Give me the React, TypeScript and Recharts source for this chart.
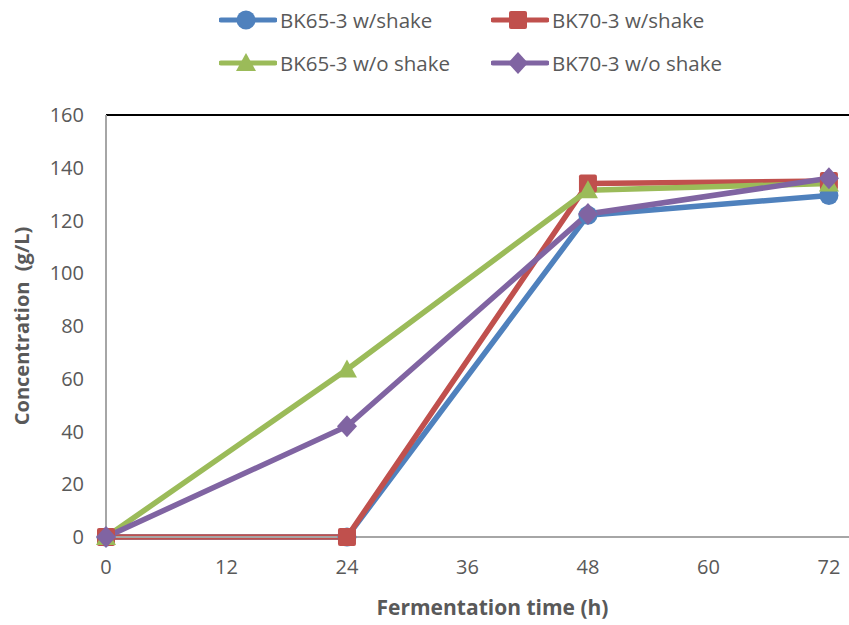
import React from "react";
import {
  LineChart,
  Line,
  XAxis,
  YAxis,
  ReferenceLine,
} from "recharts";

const times = [0, 24, 48, 72];
const bk65Shake = [0, 0, 122, 129.5];
const bk70Shake = [0, 0, 134, 135];
const bk65NoShake = [0, 63.5, 131.5, 134];
const bk70NoShake = [0, 42, 122.5, 136];
const xTicks = [0, 12, 24, 36, 48, 60, 72];
const yTicks = [0, 20, 40, 60, 80, 100, 120, 140, 160];

const data = times.map((t, i) => ({
  t,
  a: bk65Shake[i],
  b: bk70Shake[i],
  c: bk65NoShake[i],
  d: bk70NoShake[i],
}));

const FONT = "'Open Sans', sans-serif";
const TEXT = "#595959";

type Shape = "circle" | "square" | "triangle" | "diamond";

function Marker({ cx, cy, shape, color }: { cx: number; cy: number; shape: Shape; color: string }) {
  if (cx == null || cy == null) return null;
  if (shape === "circle") return <circle cx={cx} cy={cy} r={9.5} fill={color} />;
  if (shape === "square")
    return <rect x={cx - 9} y={cy - 9} width={18} height={18} rx={2} fill={color} />;
  if (shape === "triangle")
    return <polygon points={`${cx},${cy - 10} ${cx + 10},${cy + 8} ${cx - 10},${cy + 8}`} fill={color} />;
  return <polygon points={`${cx},${cy - 11} ${cx + 10},${cy} ${cx},${cy + 11} ${cx - 10},${cy}`} fill={color} />;
}

const series: { key: string; name: string; color: string; shape: Shape }[] = [
  { key: "a", name: "BK65-3 w/shake", color: "#4F81BD", shape: "circle" },
  { key: "b", name: "BK70-3 w/shake", color: "#C0504D", shape: "square" },
  { key: "c", name: "BK65-3 w/o shake", color: "#9BBB59", shape: "triangle" },
  { key: "d", name: "BK70-3 w/o shake", color: "#8064A2", shape: "diamond" },
];

function LegendBox() {
  const pos = [
    { x: 219, y: 0 },
    { x: 491, y: 0 },
    { x: 219, y: 43 },
    { x: 491, y: 43 },
  ];
  return (
    <>
      {series.map((s, i) => (
        <div
          key={s.key}
          style={{
            position: "absolute",
            left: pos[i].x,
            top: pos[i].y,
            height: 40,
            display: "flex",
            alignItems: "center",
            fontFamily: FONT,
            fontSize: 20.5,
            color: TEXT,
            whiteSpace: "nowrap",
          }}
        >
          <svg width={58} height={24} style={{ marginRight: 3 }}>
            <line x1={2} y1={12} x2={56} y2={12} stroke={s.color} strokeWidth={5} strokeLinecap="round" />
            <Marker cx={27} cy={12} shape={s.shape} color={s.color} />
          </svg>
          {s.name}
        </div>
      ))}
    </>
  );
}

function XTitle(props: any) {
  const vb = props.viewBox || {};
  return (
    <text
      x={vb.x + vb.width / 2 + 15}
      y={609}
      textAnchor="middle"
      dominantBaseline="middle"
      style={{ fontSize: 21, fontWeight: 700, fill: TEXT, fontFamily: FONT }}
    >
      Fermentation time (h)
    </text>
  );
}

function YTitle(props: any) {
  const vb = props.viewBox || {};
  const cy = vb.y + vb.height / 2;
  return (
    <text
      x={24}
      y={cy}
      transform={`rotate(-90, 24, ${cy})`}
      textAnchor="middle"
      dominantBaseline="middle"
      style={{ fontSize: 20, fontWeight: 700, fill: TEXT, fontFamily: FONT, whiteSpace: "pre" }}
    >
      {"Concentration  (g/L)"}
    </text>
  );
}

export default function App() {
  return (
    <div style={{ position: "absolute", left: 0, top: 0, width: 849, height: 625, background: "#fff" }}>
      <LegendBox />
      <LineChart
        width={849}
        height={625}
        data={data}
        margin={{ top: 115, right: 0, bottom: 0, left: 0 }}
      >
        <XAxis
          dataKey="t"
          type="number"
          domain={[0, 74]}
          ticks={xTicks}
          tickLine={false}
          tickSize={0}
          tickMargin={23}
          axisLine={{ stroke: "#A6A6A6", strokeWidth: 2 }}
          tick={{ fontSize: 20, fill: TEXT, fontFamily: FONT }}
          height={88}
          label={<XTitle />}
        />
        <YAxis
          type="number"
          domain={[0, 160]}
          ticks={yTicks}
          tickLine={false}
          tickSize={0}
          tickMargin={22}
          width={106}
          axisLine={{ stroke: "#A6A6A6", strokeWidth: 2 }}
          tick={{ fontSize: 20, fill: TEXT, fontFamily: FONT }}
          label={<YTitle />}
        />
        <ReferenceLine y={160} stroke="#000" strokeWidth={2} />
        {series.map((s) => (
          <Line
            key={s.key}
            dataKey={s.key}
            name={s.name}
            type="linear"
            stroke={s.color}
            strokeWidth={5.5}
            isAnimationActive={false}
            dot={(p: any) => <Marker key={`${s.key}-${p.index}`} cx={p.cx} cy={p.cy} shape={s.shape} color={s.color} />}
            activeDot={false}
          />
        ))}
      </LineChart>
    </div>
  );
}
